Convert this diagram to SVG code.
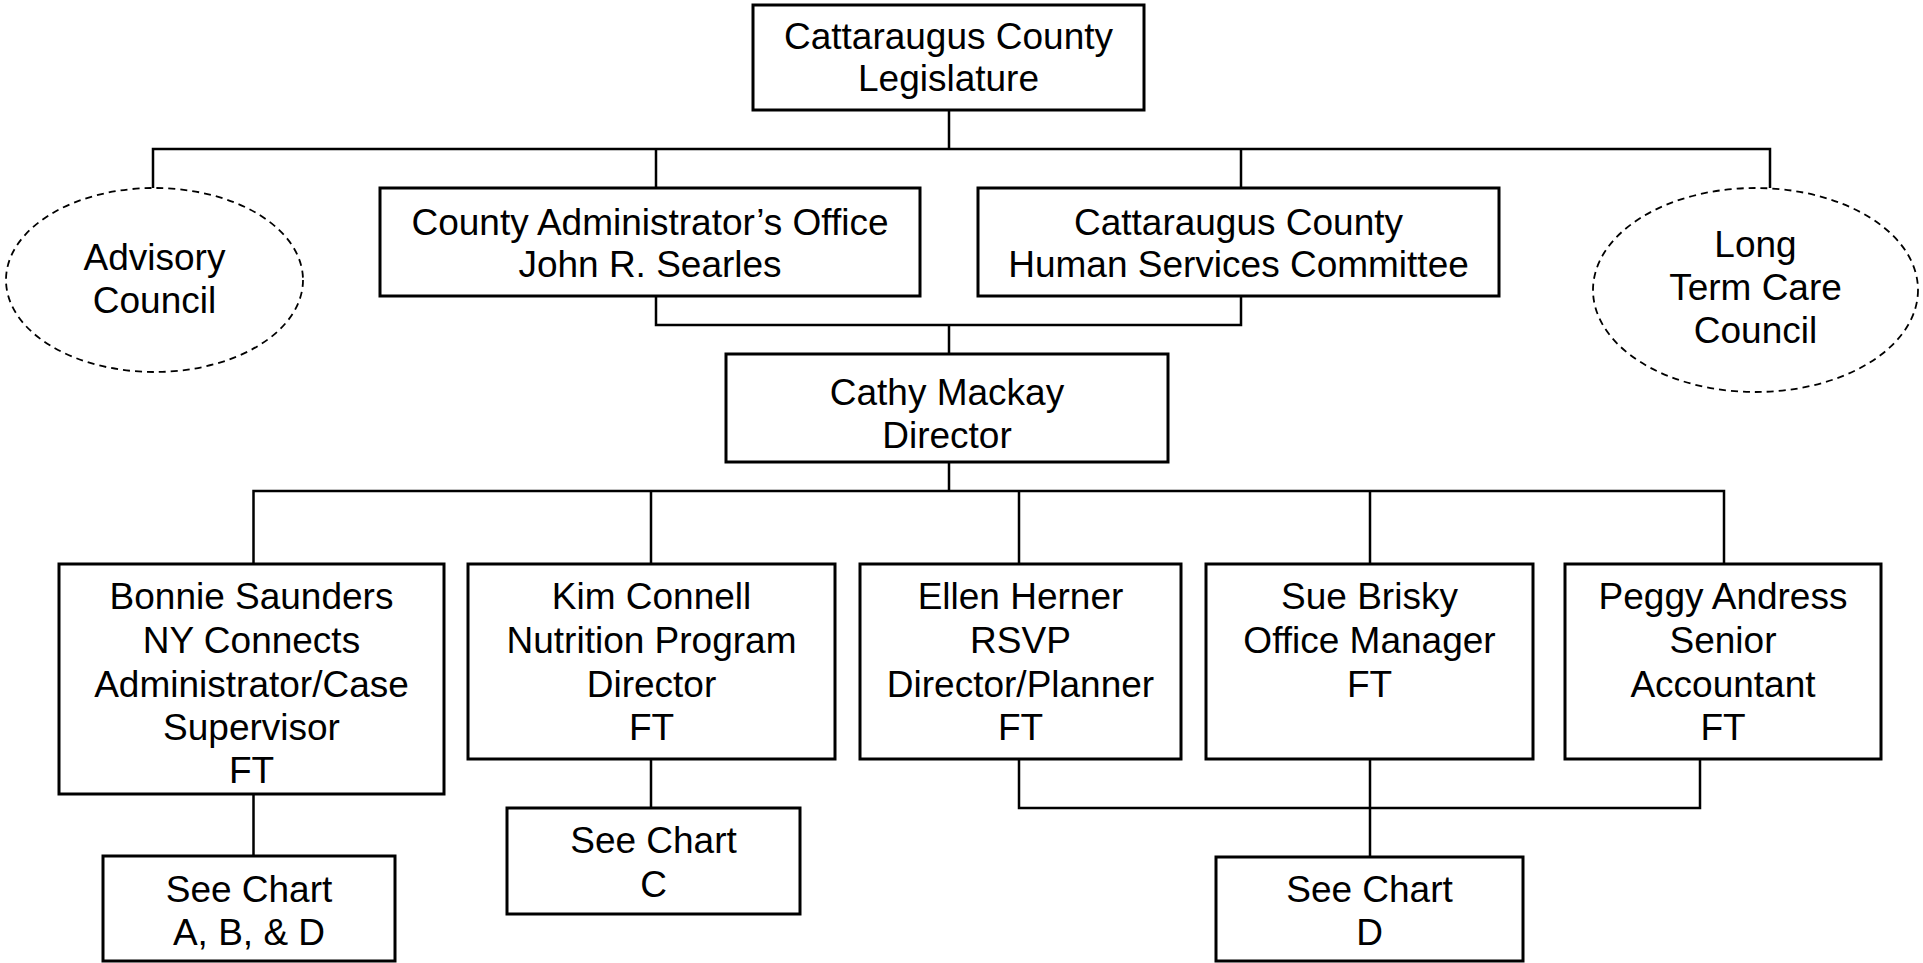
<svg xmlns="http://www.w3.org/2000/svg" width="1923" height="963" viewBox="0 0 1923 963">
<style>
.box{fill:#fff;stroke:#000;stroke-width:3}
.oval{fill:#fff;stroke:#000;stroke-width:1.8;stroke-dasharray:7 5}
.ln{fill:none;stroke:#000;stroke-width:2.5}
text{font-family:"Liberation Sans",Arial,sans-serif;font-size:37px;fill:#000;text-anchor:middle}
</style>
<rect width="1923" height="963" fill="#fff"/>
<g id="connectors">
<path class="ln" d="M949,110 V149 M153,188 V149 H1770 V188 M656,149 V188 M1241,149 V188"/>
<path class="ln" d="M656,296 V325 H1241 V296 M949,325 V354"/>
<path class="ln" d="M949,462 V491 M253.5,564 V491 H1724 V564 M651,491 V564 M1019,491 V564 M1370,491 V564"/>
<path class="ln" d="M253.5,794 V856 M651,759 V808"/>
<path class="ln" d="M1019,759 V808 H1700 V759 M1370,759 V857"/>
</g>
<g id="legislature"><rect class="box" x="753" y="5" width="391" height="105"/><text x="948.5" y="49">Cattaraugus County</text><text x="948.5" y="91">Legislature</text></g>
<g id="advisory"><ellipse class="oval" cx="154.5" cy="280" rx="148.5" ry="92"/><text x="154.5" y="270">Advisory</text><text x="154.5" y="313">Council</text></g>
<g id="admin"><rect class="box" x="380" y="188" width="540" height="108"/><text x="650" y="235">County Administrator’s Office</text><text x="650" y="277">John R. Searles</text></g>
<g id="hsc"><rect class="box" x="978" y="188" width="521" height="108"/><text x="1238.5" y="235">Cattaraugus County</text><text x="1238.5" y="277">Human Services Committee</text></g>
<g id="ltc"><ellipse class="oval" cx="1755.5" cy="290" rx="162.5" ry="102"/><text x="1755.5" y="257">Long</text><text x="1755.5" y="300">Term Care</text><text x="1755.5" y="343">Council</text></g>
<g id="director"><rect class="box" x="726" y="354" width="442" height="108"/><text x="947" y="405">Cathy Mackay</text><text x="947" y="448">Director</text></g>
<g id="bonnie"><rect class="box" x="59" y="564" width="385" height="230"/><text x="251.5" y="609">Bonnie Saunders</text><text x="251.5" y="653">NY Connects</text><text x="251.5" y="697">Administrator/Case</text><text x="251.5" y="740">Supervisor</text><text x="251.5" y="783">FT</text></g>
<g id="kim"><rect class="box" x="468" y="564" width="367" height="195"/><text x="651.5" y="609">Kim Connell</text><text x="651.5" y="653">Nutrition Program</text><text x="651.5" y="697">Director</text><text x="651.5" y="740">FT</text></g>
<g id="ellen"><rect class="box" x="860" y="564" width="321" height="195"/><text x="1020.5" y="609">Ellen Herner</text><text x="1020.5" y="653">RSVP</text><text x="1020.5" y="697">Director/Planner</text><text x="1020.5" y="740">FT</text></g>
<g id="sue"><rect class="box" x="1206" y="564" width="327" height="195"/><text x="1369.5" y="609">Sue Brisky</text><text x="1369.5" y="653">Office Manager</text><text x="1369.5" y="697">FT</text></g>
<g id="peggy"><rect class="box" x="1565" y="564" width="316" height="195"/><text x="1723" y="609">Peggy Andress</text><text x="1723" y="653">Senior</text><text x="1723" y="697">Accountant</text><text x="1723" y="740">FT</text></g>
<g id="chartABD"><rect class="box" x="103" y="856" width="292" height="105"/><text x="249" y="902">See Chart</text><text x="249" y="945">A, B, &amp; D</text></g>
<g id="chartC"><rect class="box" x="507" y="808" width="293" height="106"/><text x="653.5" y="853">See Chart</text><text x="653.5" y="897">C</text></g>
<g id="chartD"><rect class="box" x="1216" y="857" width="307" height="104"/><text x="1369.5" y="902">See Chart</text><text x="1369.5" y="945">D</text></g>
</svg>
